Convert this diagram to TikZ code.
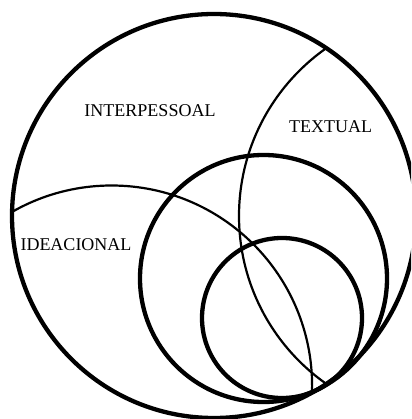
\documentclass[tikz,border=0pt]{standalone}
\usepackage{fontspec}
\setmainfont{Liberation Serif}
\tikzset{
  boldring/.style={line width=4.3pt},
  thinring/.style={line width=2.2pt},
  labeltext/.style={font=\fontsize{18pt}{20pt}\selectfont, inner sep=0pt}
}
\begin{document}
\begin{tikzpicture}[x=1pt,y=-1pt]
\useasboundingbox (0,0) rectangle (411,419);
\clip (0,0) rectangle (411,419);
\coordinate (C0) at (214,216);
\coordinate (C1) at (263.5,278.5);
\coordinate (C2) at (282,318);
\coordinate (CI) at (111.6,386);
\coordinate (CT) at (444,216);
% ideacional and textual arcs (clipped to the big circle)
\begin{scope}
  \clip (C0) circle[radius=202pt];
  \draw[thinring] (CI) circle[radius=200.5pt];
  \draw[thinring] (CT) circle[radius=205pt];
\end{scope}
% circles
\draw[boldring] (C0) circle[radius=202pt];
\draw[boldring] (C1) circle[radius=123.5pt];
\draw[boldring] (C2) circle[radius=80pt];
% labels
\node[labeltext] (inter) at (150,110.5) {INTERPESSOAL};
\node[labeltext] (text) at (330.5,127) {TEXTUAL};
\node[labeltext] (idea) at (76,245) {IDEACIONAL};
\end{tikzpicture}
\end{document}
